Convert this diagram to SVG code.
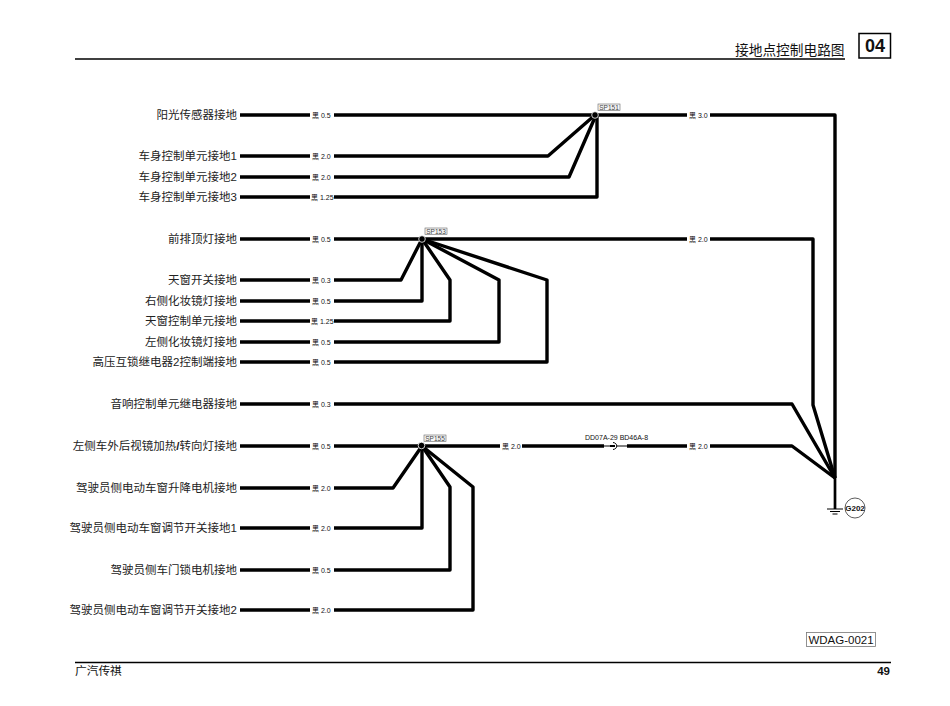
<svg xmlns="http://www.w3.org/2000/svg" width="950" height="706" viewBox="0 0 950 706">
<style>
text{font-family:"Liberation Sans","Noto Sans CJK SC",sans-serif;fill:#111}
.n{font-size:11.5px;text-anchor:end;fill:#222}
.g{font-size:7px;fill:#666}
.w{fill:none;stroke:#000;stroke-width:3.4;stroke-linejoin:round}
.s{font-size:6.5px;fill:#444;text-anchor:middle}
.b{fill:#f6f6f6;stroke:#666;stroke-width:.6}
</style>
<rect width="950" height="706" fill="#fff"/>
<g id="header">
<path d="M75 59H845" stroke="#000" stroke-width="1.400"/>
<text x="735" y="55" font-size="13.700" fill="#222">接地点控制电路图</text>
<rect x="859" y="33.500" width="31.500" height="24.500" fill="#fff" stroke="#000" stroke-width="1.500"/>
<text x="875" y="52" font-size="18" font-weight="700" text-anchor="middle">04</text>
</g>
<g id="connectors" class="w">
<path d="M240 115H310M334 115H595M597 115H687M710 115H835V478"/>
<path d="M240 156H310M334 156H548L595 115"/>
<path d="M240 177H310M334 177H569L596 115"/>
<path d="M240 197H310M334 197H597V115"/>
<path d="M240 239H310M334 239H687M710 239H813V405L835 478"/>
<path d="M240 280H310M334 280H401L422 239"/>
<path d="M240 301H310M334 301H422V239"/>
<path d="M240 321H310M334 321H450V280L422 239"/>
<path d="M240 342H310M334 342H499V280L422 239"/>
<path d="M240 362H310M334 362H547V280L422 239"/>
<path d="M240 404H310M334 404H792L835 478"/>
<path d="M240 446H310M334 446H500M522 446H604M627 446H687M710 446H792L835 478"/>
<path d="M240 488H310M334 488H393L422 446"/>
<path d="M240 528H310M334 528H422V446"/>
<path d="M240 570H310M334 570H450V487L422 446"/>
<path d="M240 610H310M334 610H473V487L422 446"/>
<path d="M835 478V509" stroke-width="2.700"/>
</g>
<g id="connector-DD07A" fill="none" stroke="#000">
<path d="M604 446H610" stroke-width="1"/>
<path d="M610 446H615" stroke-width="2"/>
<path d="M613 442.500C618 443 618 449 613 449.500M617 446H627" stroke-width="1"/>
<text x="585" y="439.500" font-size="7" stroke="none" fill="#333">DD07A-29 BD46A-8</text>
</g>
<g id="gauge-labels" class="g">
<text x="312" y="117.500">黑 0.5</text><text x="689" y="117.500">黑 3.0</text>
<text x="312" y="158.500">黑 2.0</text><text x="312" y="179.500">黑 2.0</text><text x="311" y="199.500">黑 1.25</text>
<text x="312" y="241.500">黑 0.5</text><text x="689" y="241.500">黑 2.0</text>
<text x="312" y="282.500">黑 0.3</text><text x="312" y="303.500">黑 0.5</text><text x="311" y="323.500">黑 1.25</text>
<text x="312" y="344.500">黑 0.5</text><text x="312" y="364.500">黑 0.5</text>
<text x="312" y="406.500">黑 0.3</text>
<text x="312" y="448.500">黑 0.5</text><text x="502" y="448.500">黑 2.0</text><text x="689" y="448.500">黑 2.0</text>
<text x="312" y="490.500">黑 2.0</text><text x="312" y="530.500">黑 2.0</text><text x="312" y="572.500">黑 0.5</text><text x="312" y="612.500">黑 2.0</text>
</g>
<g id="n1"><text class="n" x="237" y="119">阳光传感器接地</text></g>
<g id="n2"><text class="n" x="237" y="160">车身控制单元接地1</text></g>
<g id="n3"><text class="n" x="237" y="181">车身控制单元接地2</text></g>
<g id="n4"><text class="n" x="237" y="201">车身控制单元接地3</text></g>
<g id="n5"><text class="n" x="237" y="243">前排顶灯接地</text></g>
<g id="n6"><text class="n" x="237" y="284">天窗开关接地</text></g>
<g id="n7"><text class="n" x="237" y="305">右侧化妆镜灯接地</text></g>
<g id="n8"><text class="n" x="237" y="325">天窗控制单元接地</text></g>
<g id="n9"><text class="n" x="237" y="346">左侧化妆镜灯接地</text></g>
<g id="n10"><text class="n" x="237" y="366">高压互锁继电器2控制端接地</text></g>
<g id="n11"><text class="n" x="237" y="408">音响控制单元继电器接地</text></g>
<g id="n12"><text class="n" x="237" y="450">左侧车外后视镜加热<tspan font-weight="700">/</tspan>转向灯接地</text></g>
<g id="n13"><text class="n" x="237" y="492">驾驶员侧电动车窗升降电机接地</text></g>
<g id="n14"><text class="n" x="237" y="532">驾驶员侧电动车窗调节开关接地1</text></g>
<g id="n15"><text class="n" x="237" y="574">驾驶员侧车门锁电机接地</text></g>
<g id="n16"><text class="n" x="237" y="614">驾驶员侧电动车窗调节开关接地2</text></g>
<g id="SP151"><circle cx="595" cy="115" r="3.300" fill="#000" stroke="#fff" stroke-width=".8"/><rect class="b" x="598" y="104" width="22" height="6.500"/><text class="s" x="609" y="110">SP151</text></g>
<g id="SP153"><circle cx="422" cy="239" r="3.300" fill="#000" stroke="#fff" stroke-width=".8"/><rect class="b" x="425" y="228" width="22" height="6.500"/><text class="s" x="436" y="234">SP153</text></g>
<g id="SP155"><circle cx="421.500" cy="445.500" r="3.300" fill="#000" stroke="#fff" stroke-width=".8"/><rect class="b" x="424" y="435" width="22" height="6.500"/><text class="s" x="435" y="441">SP155</text></g>
<g id="G202">
<path d="M827 509H843M830 511.500H840M832.500 514H837.500" stroke="#000" stroke-width="1.200" fill="none"/>
<circle cx="855" cy="508" r="10" fill="#fff" stroke="#333" stroke-width=".8"/>
<text x="855" y="511" font-size="8" font-weight="700" text-anchor="middle">G202</text>
</g>
<g id="footer">
<rect x="806.500" y="632.500" width="69" height="14" fill="#fff" stroke="#777" stroke-width=".8"/>
<text x="841" y="644" font-size="11.500" text-anchor="middle" fill="#333">WDAG-0021</text>
<path d="M75 662.500H891" stroke="#000" stroke-width="1.400"/>
<text x="75" y="675" font-size="11.700" fill="#222">广汽传祺</text>
<text x="890" y="675" font-size="11.500" font-weight="700" text-anchor="end">49</text>
</g>
</svg>
